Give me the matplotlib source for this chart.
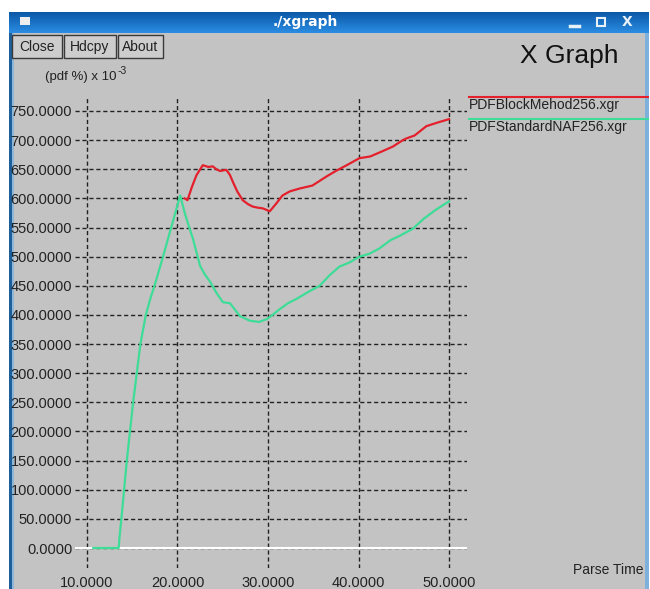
import numpy as np
import matplotlib
matplotlib.use('Agg')
import matplotlib.pyplot as plt
from matplotlib.patches import Rectangle

# data
block_x = [20.8, 21.1, 21.6, 22.1, 22.8, 23.4, 23.9, 24.3, 24.7, 25.4, 25.8,
           26.1, 26.6, 27.2, 27.8, 28.3, 28.9, 29.4, 30.2, 30.9, 31.6, 32.4,
           33.5, 34.9, 35.7, 36.5, 37.6, 38.7, 40.1, 41.3, 42.5, 43.8, 44.9,
           45.3, 46.2, 47.5, 48.7, 50.0]
block_y = [600, 597, 620, 640, 657, 654, 655, 650, 647, 649, 640,
           629, 612, 597, 590, 586, 584, 583, 578, 591, 605, 612,
           617, 622, 630, 638, 648, 657, 669, 672, 680, 689, 700,
           703, 708, 724, 730, 736]

naf_x = [10.7, 13.5, 13.6, 13.8, 14.1, 14.4, 14.75, 15.1, 15.5, 15.9, 16.5,
         17.0, 17.5, 18.4, 19.3, 20.3, 20.8, 21.3, 21.7, 22.5, 23.0, 23.6,
         24.3, 25.0, 25.8, 26.9, 28.0, 29.0, 29.9, 30.5, 31.3, 32.2, 33.2,
         34.5, 35.7, 36.8, 37.9, 39.0, 40.1, 41.2, 42.3, 43.5, 44.7, 46.0,
         47.2, 48.5, 50.0]
naf_y = [0, 0, 20, 50, 100, 150, 200, 250, 300, 350, 400,
         428, 452, 500, 550, 605, 575, 550, 531, 484, 470, 457,
         438, 422, 420, 398, 390, 388, 393, 400, 410, 420, 428,
         440, 450, 468, 483, 490, 500, 505, 514, 528, 537, 548,
         565, 580, 595]

x_ticks = [10, 20, 30, 40, 50]
y_ticks = list(range(0, 800, 50))
series_names = ['PDFBlockMehod256.xgr', 'PDFStandardNAF256.xgr']
series_colors = ['#e3202c', '#3ddc97']

W, H = 650, 589
BG = '#c3c3c3'
FONT = ['Liberation Sans', 'DejaVu Sans']
TXT = '#222222'


def fx(px):
    return px / W


def fy(py):
    return 1 - py / H


fig = plt.figure(figsize=(W / 100, H / 100), dpi=100)
fig.patch.set_facecolor('white')

# window frame drawn in pixel coordinates
bg = fig.add_axes([0, 0, 1, 1])
bg.set_xlim(0, W)
bg.set_ylim(H, 0)
bg.axis('off')
bg.add_patch(Rectangle((9, 12), 640, H - 12, facecolor=BG, edgecolor='none'))
bg.add_patch(Rectangle((9, 33), 3, H, facecolor='#1d5f9a', edgecolor='none'))
bg.add_patch(Rectangle((12, 33), 2, H, facecolor='#8fb6d6', edgecolor='none'))
bg.add_patch(Rectangle((645, 33), 4, H, facecolor='#7fb0dc', edgecolor='none'))

# title bar gradient
grad = np.linspace(0, 1, 50).reshape(-1, 1)
bg.imshow(grad, extent=(9, 649, 33, 12), cmap=matplotlib.colors.LinearSegmentedColormap.from_list(
    'tb', ['#0b58a8', '#2a8de2']), aspect='auto', zorder=1)
bg.add_patch(Rectangle((20, 17), 10, 8, facecolor='#eeeeee', edgecolor='none', zorder=2))
bg.text(305, 22, './xgraph', color='white', fontsize=10, fontweight='bold',
        ha='center', va='center', zorder=3)
bg.plot([570, 579], [26, 26], color='#e8f0f8', lw=2.5, zorder=3)
bg.add_patch(Rectangle((597, 18), 8, 8, facecolor='none', edgecolor='#e8f0f8', lw=1.5, zorder=3))
bg.text(627, 22, 'X', color='#e8f0f8', fontsize=10, fontweight='bold', ha='center', va='center', zorder=3)

# buttons
for label, x0, x1 in [('Close', 12, 62), ('Hdcpy', 64, 116), ('About', 118, 163)]:
    bg.add_patch(Rectangle((x0, 35), x1 - x0, 23, facecolor='#cdcdcd',
                           edgecolor='#3a3a3a', lw=1))
    bg.text((x0 + x1) / 2, 47, label, family=FONT, fontsize=10,
            ha='center', va='center', color=TXT)

bg.text(520, 56, 'X Graph', family=FONT, fontsize=19,
        ha='left', va='center', color='#111111')
ylab = bg.text(45, 77, '(pdf %) x 10', family=FONT, fontsize=9.5, ha='left', va='center', color=TXT)
renderer = fig.canvas.get_renderer()
ext = ylab.get_window_extent(renderer)
sup_x = ext.x1 / fig.dpi * 100 * (W / (fig.get_figwidth() * 100))
bg.text(sup_x + 1, 71, '-3', family=FONT, fontsize=7.5, ha='left', va='center', color=TXT)
bg.text(573, 570, 'Parse Time', family=FONT, fontsize=10, ha='left', va='center', color=TXT)

# legend at the right edge
for i, (name, col) in enumerate(zip(series_names, series_colors)):
    ly = 97 + 22 * i
    bg.plot([469, 648], [ly, ly], color=col, lw=1.5)
    bg.text(469, ly + 8, name, family=FONT, fontsize=10, ha='left', va='center', color=TXT)

# plot area
left, right, top, bottom = 75, 467, 97, 568
ax = fig.add_axes([fx(left), fy(bottom), fx(right - left), (bottom - top) / H])
ax.set_facecolor('none')
for s in ax.spines.values():
    s.set_visible(False)

x_px = 90.6
y_px = 437 / 750
ax.set_xlim(10 - (87 - left) / x_px * 10, 50 + (right - 449) / x_px * 10)
ax.set_ylim(-(bottom - 548) / y_px, (548 - top) / y_px)

for xt in x_ticks:
    ax.axvline(xt, color=TXT, lw=1, ls=(0, (3, 2)), zorder=1)
for yt in y_ticks:
    ax.axhline(yt, color=TXT, lw=1, ls=(0, (3, 2)), zorder=1)
ax.axhline(0, color='white', lw=1.5, zorder=2)

ax.set_xticks(x_ticks)
ax.set_yticks(y_ticks)
ax.set_xticklabels(['%.4f' % v for v in x_ticks], family=FONT, fontsize=10.5, color=TXT)
ax.set_yticklabels(['%.4f' % v for v in y_ticks], family=FONT, fontsize=10.5, color=TXT)
ax.tick_params(length=0, pad=2)
ax.tick_params(axis='x', pad=6)

ax.plot(naf_x, naf_y, color=series_colors[1], lw=1.6, zorder=3)
ax.plot(block_x, block_y, color=series_colors[0], lw=1.6, zorder=4)

fig.savefig('out.png', dpi=100, facecolor=fig.get_facecolor())
